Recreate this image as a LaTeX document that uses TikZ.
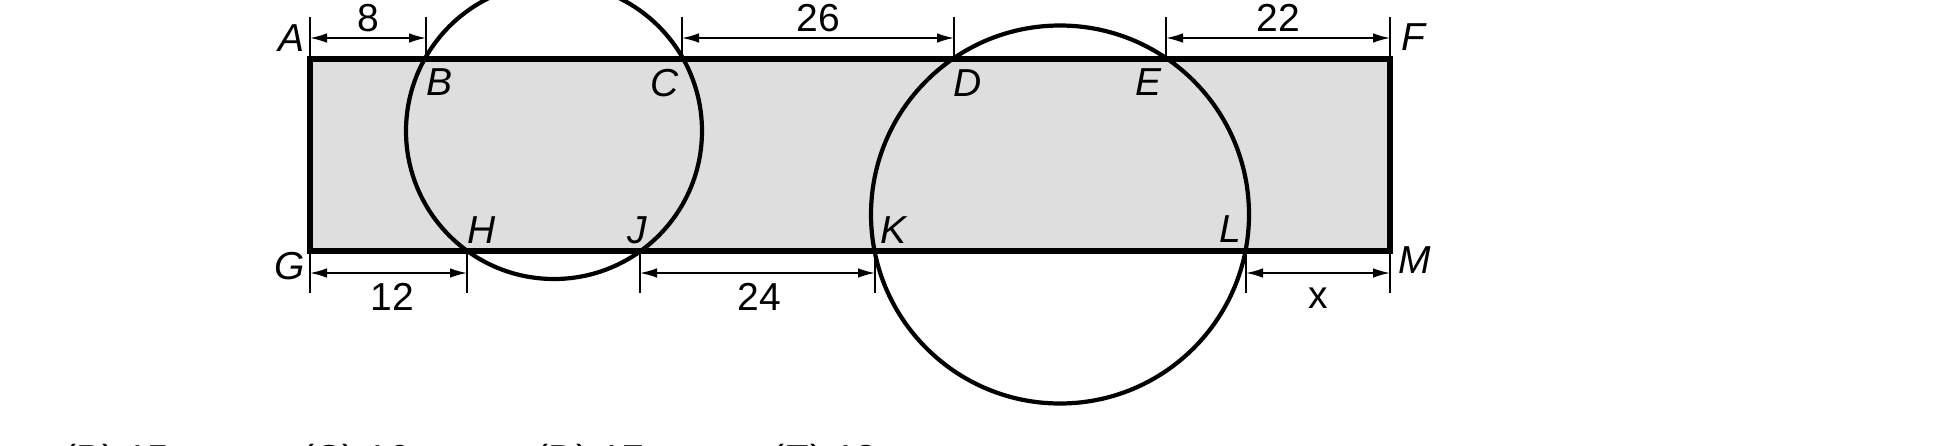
\documentclass[tikz,border=0pt]{standalone}
\usepackage{fontspec}
\setmainfont{Liberation Sans}
\usetikzlibrary{arrows.meta,calc}
\definecolor{bandgray}{RGB}{221,222,221}
\begin{document}
\begin{tikzpicture}[x=0.5pt,y=-0.5pt,
  every node/.style={font=\fontsize{19.5}{23}\selectfont, inner sep=0pt},
  ptlabel/.style={font=\fontsize{19.5}{23}\selectfont\itshape},
  border/.style={line width=2.6pt},
  ring/.style={line width=2.1pt},
  ext/.style={line width=0.8pt},
  dimline/.style={line width=0.8pt, {Latex[length=8.5pt,width=4.8pt]}-{Latex[length=8.5pt,width=4.8pt]}}]
\useasboundingbox (0,0) rectangle (1960,445);
% points
\coordinate (A) at (310,59);
\coordinate (F) at (1390,59);
\coordinate (G) at (310,251);
\coordinate (M) at (1390,251);
\coordinate (B) at (426,59);
\coordinate (C) at (682,59);
\coordinate (D) at (954,59);
\coordinate (E) at (1166,59);
\coordinate (H) at (467,251);
\coordinate (J) at (640,251);
\coordinate (K) at (875,251);
\coordinate (L) at (1246,251);
% band
\fill[bandgray] (A) rectangle (M);
\draw[border] (A) -- (F) -- (M) -- (G) -- cycle;
% circles
\draw[ring] (554,131) circle[radius=148];
\draw[ring] (1060,214.5) circle[radius=189];
% top extension lines
\foreach \p in {A,B,C,D,E,F}{
  \draw[ext] (\p) -- ($(\p)+(0,-42)$);
}
% bottom extension lines
\foreach \p in {G,H,J,K,L,M}{
  \draw[ext] (\p) -- ($(\p)+(0,42)$);
}
% dimension arrows
\draw[dimline] ($(A)+(0,-21)$) -- ($(B)+(0,-21)$);
\draw[dimline] ($(C)+(0,-21)$) -- ($(D)+(0,-21)$);
\draw[dimline] ($(E)+(0,-21)$) -- ($(F)+(0,-21)$);
\draw[dimline] ($(G)+(0,22)$) -- ($(H)+(0,22)$);
\draw[dimline] ($(J)+(0,22)$) -- ($(K)+(0,22)$);
\draw[dimline] ($(L)+(0,22)$) -- ($(M)+(0,22)$);
\node (d8) at ($($(A)!0.5!(B)$)+(0,-41)$) {8};
\node (d26) at ($($(C)!0.5!(D)$)+(0,-41)$) {26};
\node (d22) at ($($(E)!0.5!(F)$)+(0,-41)$) {22};
\node (d12) at ($($(G)!0.5!(H)$)+(4,46)$) {12};
\node (d24) at ($($(J)!0.5!(K)$)+(2,46)$) {24};
\node (dx) at ($($(L)!0.5!(M)$)+(0,47)$) {x};
% point labels
\node[ptlabel] (lA) at (292,38) {A};
\node[ptlabel] (lF) at (1413,37) {F};
\node[ptlabel] (lG) at (290,266) {G};
\node[ptlabel] (lM) at (1415,260) {M};
\node[ptlabel] (lB) at (440,82) {B};
\node[ptlabel] (lC) at (665,83) {C};
\node[ptlabel] (lD) at (968,83) {D};
\node[ptlabel] (lE) at (1148,82) {E};
\node[ptlabel] (lH) at (482,230) {H};
\node[ptlabel] (lJ) at (637,230) {J};
\node[ptlabel] (lK) at (893,230) {K};
\node[ptlabel] (lL) at (1230,229) {L};
% answer choices (cut off at bottom, as in the reference)
\node[anchor=base west] (ansB) at (63,472) {(B) 15};
\node[anchor=base west] (ansC) at (301,472) {(C) 16};
\node[anchor=base west] (ansD) at (535,472) {(D) 17};
\node[anchor=base west] (ansE) at (771,472) {(E) 18};
\end{tikzpicture}
\end{document}
